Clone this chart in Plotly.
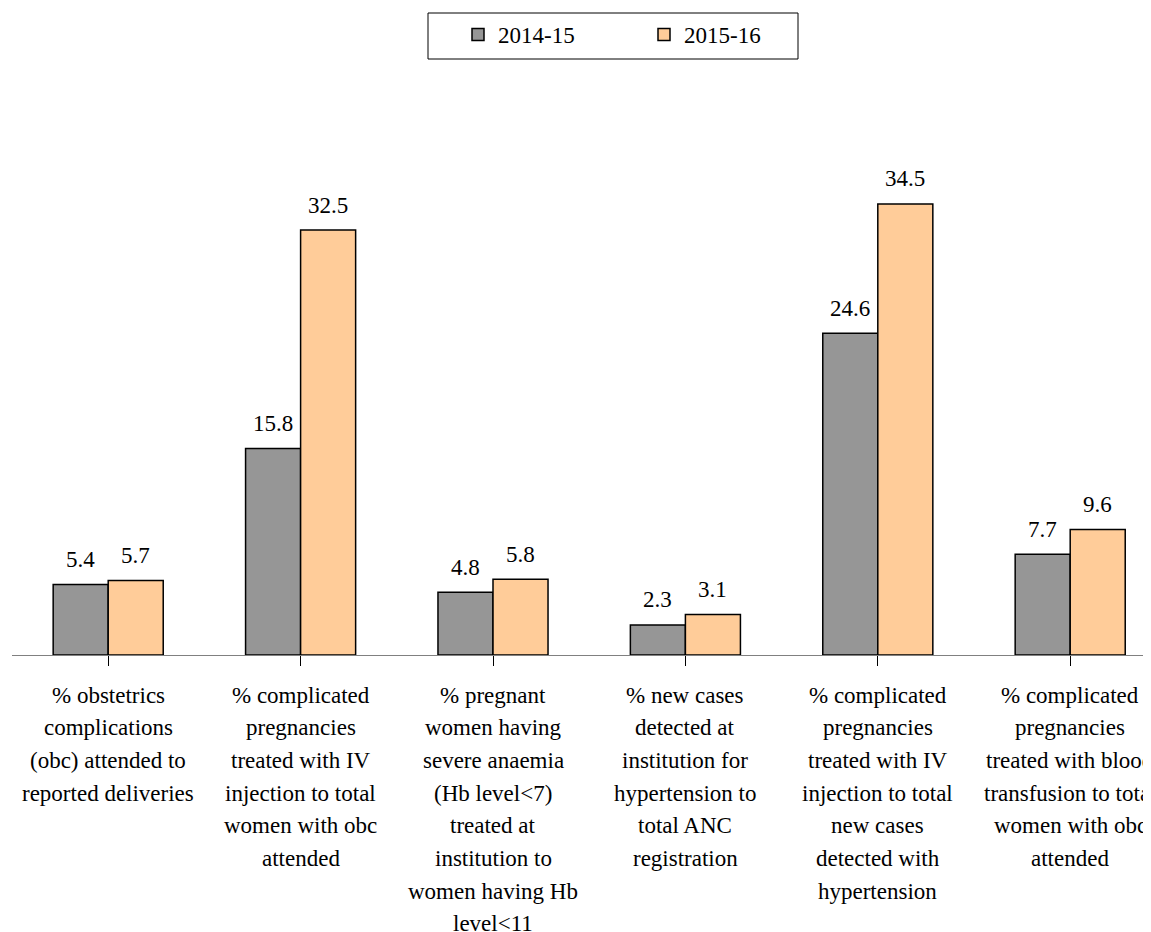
import plotly.graph_objects as go

categories = [
    "% obstetrics<br>complications<br>(obc) attended to<br>reported deliveries",
    "% complicated<br>pregnancies<br>treated with IV<br>injection to total<br>women with obc<br>attended",
    "% pregnant<br>women having<br>severe anaemia<br>(Hb level&lt;7)<br>treated at<br>institution to<br>women having Hb<br>level&lt;11",
    "% new cases<br>detected at<br>institution for<br>hypertension to<br>total ANC<br>registration",
    "% complicated<br>pregnancies<br>treated with IV<br>injection to total<br>new cases<br>detected with<br>hypertension",
    "% complicated<br>pregnancies<br>treated with blood<br>transfusion to total<br>women with obc<br>attended",
]
series_names = ["2014-15", "2015-16"]
values_2014_15 = [5.4, 15.8, 4.8, 2.3, 24.6, 7.7]
values_2015_16 = [5.7, 32.5, 5.8, 3.1, 34.5, 9.6]
colors = ["#969696", "#FFCC99"]

FONT = "Liberation Serif, Times New Roman, serif"
FS = 23
OFF = 8  # page body margin
W, H = 1151 - OFF, 932 - OFF
ML, MR, MT, MB = 12 - OFF, 0, 132 - OFF, 277
cat_px = 192.4
plot_w = W - ML - MR
plot_h = H - MT - MB
x_max = -0.5 + plot_w / cat_px
y_max = 40.0
LABEL_FIRST = 40     # px below axis to centre of first label line
LABEL_STEP = 32.7    # px between label lines


def px_x(page_x):
    return (page_x - OFF - ML) / plot_w


def px_y(page_y):
    return (H - MB - (page_y - OFF)) / plot_h


fig = go.Figure()
idx = list(range(len(categories)))
for name, vals, col in zip(series_names, [values_2014_15, values_2015_16], colors):
    fig.add_trace(go.Bar(
        x=idx, y=vals, name=name,
        marker=dict(color=col, line=dict(color="#000000", width=1.5)),
    ))

# value labels
bar_px = cat_px * (1 - 0.428) / 2
for si, vals in enumerate([values_2014_15, values_2015_16]):
    shift = (-0.5 if si == 0 else 0.5) * bar_px
    for i, v in enumerate(vals):
        fig.add_annotation(
            x=i, y=v, xref="x", yref="y", text=f"{v:.1f}", showarrow=False,
            xshift=shift, yshift=25, yanchor="middle",
            font=dict(family=FONT, size=FS, color="#000000"),
        )

# category labels (one annotation per line, for the wider line spacing)
for i, cat in enumerate(categories):
    for k, line in enumerate(cat.split("<br>")):
        fig.add_annotation(
            x=i, y=0, xref="x", yref="y", text=line, showarrow=False,
            yshift=-(LABEL_FIRST + LABEL_STEP * k), yanchor="middle",
            xanchor="center", font=dict(family=FONT, size=FS, color="#000000"),
        )

# legend frame
fig.add_shape(
    type="rect", xref="paper", yref="paper",
    x0=px_x(428), x1=px_x(798), y0=px_y(59), y1=px_y(13),
    line=dict(color="#000000", width=1), fillcolor="rgba(0,0,0,0)", layer="below",
)

fig.update_layout(
    width=W, height=H,
    margin=dict(l=ML, r=MR, t=MT, b=MB, pad=0),
    paper_bgcolor="white", plot_bgcolor="white",
    barmode="group", bargap=0.428, bargroupgap=0,
    font=dict(family=FONT, size=FS, color="#000000"),
    showlegend=True,
    legend=dict(
        orientation="h", x=px_x(458), xanchor="left",
        y=px_y(13), yanchor="top",
        borderwidth=0, bgcolor="rgba(0,0,0,0)",
        font=dict(family=FONT, size=FS, color="#000000"),
        entrywidth=141, entrywidthmode="pixels",
    ),
    xaxis=dict(
        range=[-0.5, x_max], tickmode="array", tickvals=idx,
        showticklabels=False,
        tickson="boundaries", ticks="outside", ticklen=10, tickcolor="#000000",
        showline=True, linecolor="#808080", linewidth=1, showgrid=False,
        automargin=False,
    ),
    yaxis=dict(range=[0, y_max], visible=False, showgrid=False, zeroline=False),
)

fig.write_html("out.html")
